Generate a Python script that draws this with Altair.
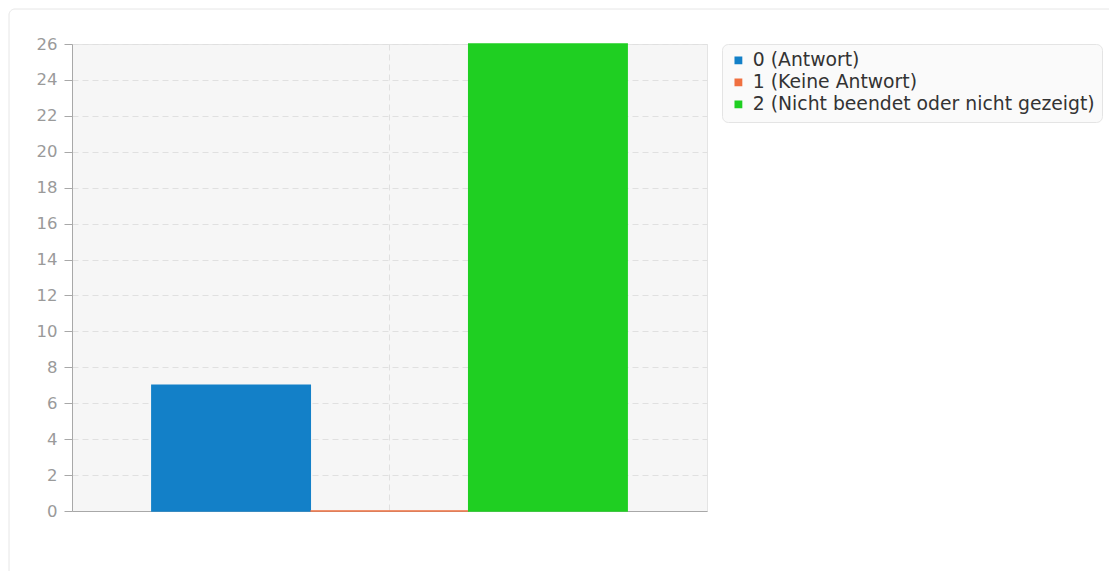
import altair as alt
import pandas as pd

categories = ["0 (Antwort)", "1 (Keine Antwort)", "2 (Nicht beendet oder nicht gezeigt)"]
values = [7, 0, 26]
colors = ["#1380c8", "#f07040", "#1fcf22"]
y_ticks = list(range(0, 27, 2))

df = pd.DataFrame({"group": [""] * 3, "series": categories, "value": values})

W, H = 635, 467

frame = alt.Chart(pd.DataFrame({"a": [0]})).mark_rect(
    filled=False, stroke="#e6e6e6", strokeWidth=1, cornerRadius=6
).encode(
    x=alt.value(-63), x2=alt.value(W + 420), y=alt.value(-35), y2=alt.value(H + 80)
)

bars = alt.Chart(df).mark_bar(strokeWidth=1.5).encode(
    x=alt.X("group:N", axis=alt.Axis(
        labels=False, ticks=False, title=None, domain=True, domainColor="#a8a8a8",
        grid=True, gridDash=[6, 4], gridColor="#e0e0e0", bandPosition=0.5),
        scale=alt.Scale(paddingInner=0, paddingOuter=0.168)),
    xOffset=alt.XOffset("series:N", sort=categories, scale=alt.Scale(paddingInner=0, paddingOuter=0)),
    y=alt.Y("value:Q", scale=alt.Scale(domain=[0, 26], nice=False),
            axis=alt.Axis(values=y_ticks, title=None, grid=True, gridDash=[6, 4],
                          gridColor="#e0e0e0", domainColor="#a8a8a8", tickColor="#a8a8a8",
                          tickSize=8, labelColor="#9a9a9a", labelFontSize=16.5,
                          labelPadding=7, labelFont="DejaVu Sans")),
    color=alt.Color("series:N", sort=categories,
                    scale=alt.Scale(domain=categories, range=colors),
                    legend=alt.Legend(title=None, orient="none", legendX=650, legendY=0,
                                      symbolType="square", symbolSize=40,
                                      labelFontSize=18.8, labelColor="#333333",
                                      labelFont="DejaVu Sans", fillColor="#fafafa",
                                      strokeColor="#e4e4e4", cornerRadius=6,
                                      padding=7, rowPadding=2, labelLimit=600,
                                      labelOffset=5)),
    stroke=alt.Color("series:N", sort=categories,
                     scale=alt.Scale(domain=categories, range=colors), legend=None),
)

chart = alt.layer(frame, bars).properties(
    width=W, height=H,
    background="white",
    autosize=alt.AutoSizeParams(type="none"),
    padding={"left": 64, "top": 36, "right": 402, "bottom": 60},
).configure_view(
    fill="#f6f6f6", stroke="#e4e4e4"
)

chart.save("out.html", embed_options={"renderer": "svg", "actions": False})
